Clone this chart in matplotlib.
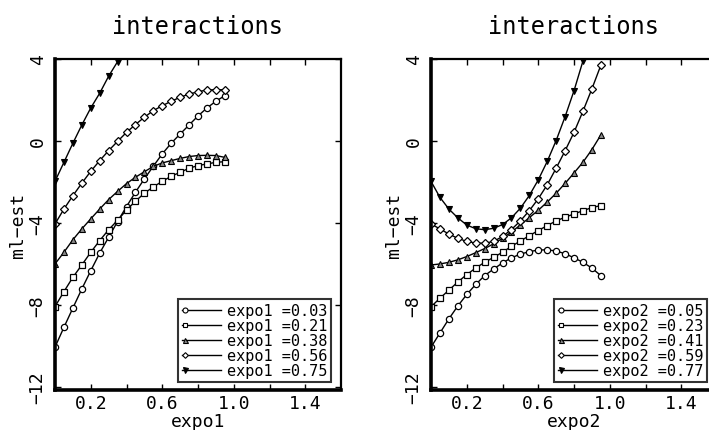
import matplotlib
matplotlib.use("Agg")
import matplotlib.pyplot as plt
from matplotlib.lines import Line2D
from matplotlib.legend_handler import HandlerLine2D

# ---------------- data ----------------
grid = [0.00, 0.05, 0.10, 0.15, 0.20, 0.25, 0.30, 0.35, 0.40, 0.45,
        0.50, 0.55, 0.60, 0.65, 0.70, 0.75, 0.80, 0.85, 0.90, 0.95]

left_labels = ["expo1 =0.03", "expo1 =0.21", "expo1 =0.38", "expo1 =0.56", "expo1 =0.75"]
left_a = [-10.06, -9.09, -8.15, -7.22, -6.33, -5.47, -4.70, -3.93, -3.20, -2.50,
          -1.85, -1.23, -0.63, -0.11, 0.34, 0.78, 1.22, 1.61, 1.94, 2.21]
left_b = [-8.08, -7.35, -6.65, -6.05, -5.43, -4.86, -4.33, -3.87, -3.37, -2.94,
          -2.55, -2.24, -1.97, -1.72, -1.53, -1.33, -1.20, -1.12, -1.04, -1.01]
left_c = [-6.00, -5.43, -4.82, -4.29, -3.80, -3.32, -2.86, -2.46, -2.08, -1.77,
          -1.50, -1.24, -1.07, -0.96, -0.85, -0.76, -0.71, -0.70, -0.71, -0.80]
left_d = [-4.05, -3.32, -2.67, -2.06, -1.48, -0.96, -0.47, -0.02, 0.42, 0.80,
          1.16, 1.48, 1.72, 1.94, 2.13, 2.29, 2.40, 2.49, 2.50, 2.50]
left_e = [-1.97, -1.04, -0.11, 0.78, 1.61, 2.33, 3.16, 3.87, 4.55]

right_labels = ["expo2 =0.05", "expo2 =0.23", "expo2 =0.41", "expo2 =0.59", "expo2 =0.77"]
right_a = [-10.06, -9.37, -8.68, -8.05, -7.49, -7.00, -6.57, -6.25, -5.95, -5.70,
           -5.52, -5.40, -5.32, -5.31, -5.37, -5.50, -5.70, -5.92, -6.20, -6.57]
right_b = [-8.09, -7.67, -7.28, -6.88, -6.52, -6.20, -5.92, -5.68, -5.43, -5.14,
           -4.88, -4.62, -4.37, -4.13, -3.90, -3.72, -3.56, -3.40, -3.25, -3.15]
right_c = [-6.05, -6.00, -5.92, -5.80, -5.64, -5.45, -5.25, -5.02, -4.75, -4.44,
           -4.10, -3.74, -3.38, -2.98, -2.55, -2.07, -1.56, -1.04, -0.42, 0.29]
right_d = [-4.05, -4.29, -4.54, -4.75, -4.90, -4.98, -4.99, -4.90, -4.66, -4.32,
           -3.90, -3.40, -2.82, -2.14, -1.33, -0.48, 0.42, 1.45, 2.54, 3.69]
right_e = [-1.97, -2.75, -3.32, -3.75, -4.10, -4.28, -4.33, -4.26, -4.08, -3.75,
           -3.28, -2.66, -1.90, -1.00, 0.02, 1.18, 2.45, 3.90]

xticks = [0.2, 0.4, 0.6, 0.8, 1.0, 1.2, 1.4]
xticklabels = ["0.2", "", "0.6", "", "1.0", "", "1.4"]
yticks = [-12, -8, -4, 0, 4]
yticklabels = ["\u221212", "\u22128", "\u22124", "0", "4"]

# ---------------- style ----------------
FONT = "DejaVu Sans Mono"
plt.rcParams["font.family"] = [FONT, "DejaVu Sans"]

markers = [
    dict(marker="o", ms=4.5, mfc="white", mec="black", mew=0.9),
    dict(marker="s", ms=4.0, mfc="white", mec="black", mew=0.9),
    dict(marker="^", ms=4.5, mfc="#888888", mec="black", mew=0.8),
    dict(marker="D", ms=3.6, mfc="white", mec="black", mew=0.9),
    dict(marker="v", ms=4.5, mfc="black", mec="black", mew=0.8),
]


class LeftMarkerHandler(HandlerLine2D):
    def create_artists(self, legend, orig_handle, xdescent, ydescent,
                       width, height, fontsize, trans):
        y = (height - ydescent) / 2.0
        x0 = -xdescent
        x1 = -xdescent + width
        ln = Line2D([x0, x1], [y, y], color="black", lw=1.0)
        mk = Line2D([x0 + 2], [y], ls="none", marker=orig_handle.get_marker(),
                    ms=orig_handle.get_markersize() * 0.8,
                    mfc=orig_handle.get_markerfacecolor(),
                    mec="black", mew=0.8)
        ln.set_transform(trans)
        mk.set_transform(trans)
        return [ln, mk]


W, H = 709, 431
fig = plt.figure(figsize=(W / 100, H / 100), dpi=100)

ax_left_px, ax_right_px = 55, 431
ax_w_px = 286
ax_top_px, ax_bot_px = 60, 391


def make_axes(left_px):
    return fig.add_axes([left_px / W, (H - ax_bot_px) / H,
                         ax_w_px / W, (ax_bot_px - ax_top_px) / H])


def style_axes(ax, xlabel):
    ax.set_xlim(0, 1.6)
    ax.set_ylim(-12.15, 4)
    ax.set_xticks(xticks)
    ax.set_xticklabels(xticklabels, fontsize=13)
    ax.set_yticks(yticks)
    ax.set_yticklabels(yticklabels, fontsize=13, rotation=90, va="center")
    ax.tick_params(axis="both", direction="in", length=4, width=1,
                   top=True, right=True, colors="black")
    ax.tick_params(axis="x", pad=3)
    ax.tick_params(axis="y", pad=6)
    for s in ["top", "right"]:
        ax.spines[s].set_linewidth(1.6)
    for s in ["left", "bottom"]:
        ax.spines[s].set_linewidth(2.6)
    ax.set_title("interactions", fontsize=17, pad=19)
    ax.set_xlabel(xlabel, fontsize=13, labelpad=0)
    ax.set_ylabel("ml\u2212est", fontsize=13, labelpad=1)


def draw(ax, series, labels, xlabel):
    handles = []
    for ys, lab, mk in zip(series, labels, markers):
        h, = ax.plot(grid[:len(ys)], ys, color="black", lw=1.0, label=lab, **mk)
        handles.append(h)
    style_axes(ax, xlabel)
    leg = ax.legend(handles=handles, loc="lower right",
                    bbox_to_anchor=(0.965, 0.024), borderaxespad=0,
                    fontsize=11, frameon=True, fancybox=False,
                    handlelength=2.6, handletextpad=0.35, labelspacing=0.0,
                    borderpad=0.25, handleheight=0.6,
                    handler_map={Line2D: LeftMarkerHandler()})
    leg.get_frame().set_edgecolor("black")
    leg.get_frame().set_linewidth(1.5)


axL = make_axes(ax_left_px)
draw(axL, [left_a, left_b, left_c, left_d, left_e], left_labels, "expo1")
axR = make_axes(ax_right_px)
draw(axR, [right_a, right_b, right_c, right_d, right_e], right_labels, "expo2")

fig.savefig("out.png", dpi=100)
